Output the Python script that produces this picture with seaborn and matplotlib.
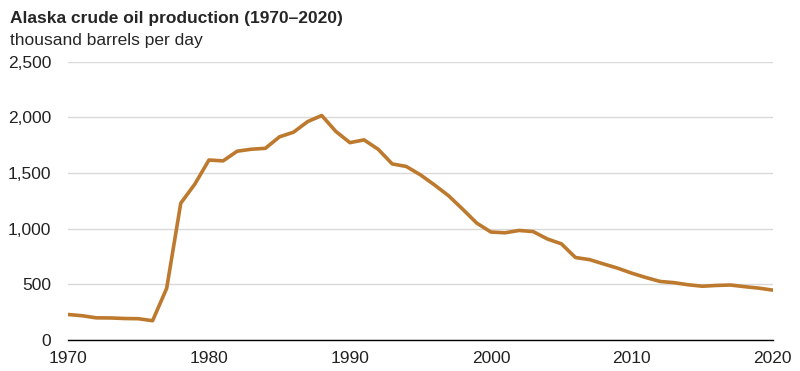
import numpy as np
import pandas as pd
import matplotlib
matplotlib.use('Agg')
import matplotlib.pyplot as plt
import seaborn as sns

# Alaska crude oil production, thousand barrels per day
years = list(range(1970, 2021))
production = [229, 218, 199, 198, 193, 191, 173, 464, 1229, 1401,
              1617, 1609, 1696, 1714, 1722, 1825, 1867, 1962, 2017, 1874,
              1773, 1798, 1714, 1582, 1559, 1484, 1393, 1296, 1175, 1050,
              970, 963, 984, 974, 908, 864, 741, 722, 683, 645,
              600, 561, 526, 515, 496, 483, 490, 494, 479, 466,
              448]
y_ticks = [0, 500, 1000, 1500, 2000, 2500]
x_labels = [1970, 1980, 1990, 2000, 2010, 2020]

df = pd.DataFrame({'year': years, 'production': production})

sns.set_style('white')
plt.rcParams['font.family'] = ['Liberation Sans', 'DejaVu Sans']

fig = plt.figure(figsize=(8, 3.71), dpi=100)
ax = fig.add_axes([0.085, 0.0836, 0.881, 0.75])

sns.lineplot(data=df, x='year', y='production', ax=ax, color='#BD7A2E', linewidth=2.6)

ax.set_xlim(1970, 2020)
ax.set_ylim(0, 2500)
ax.set_yticks(y_ticks)
ax.set_yticklabels([f'{v:,}' for v in y_ticks])
ax.set_xticks(range(1970, 2021, 5))
ax.set_xticklabels([str(y) if y in x_labels else '' for y in range(1970, 2021, 5)])
ax.set_xlabel('')
ax.set_ylabel('')

# light gridlines, black baseline
ax.yaxis.grid(True, color='#d9d9d9', linewidth=1)
ax.set_axisbelow(True)
for s in ['top', 'right', 'left']:
    ax.spines[s].set_visible(False)
ax.spines['bottom'].set_color('black')
ax.spines['bottom'].set_linewidth(1)
ax.tick_params(axis='x', direction='out', length=6, width=1, color='black', labelsize=12.5, pad=2)
ax.tick_params(axis='y', length=0, labelsize=12.5, pad=12)
for lbl in ax.get_xticklabels() + ax.get_yticklabels():
    lbl.set_color('#222222')

fig.text(0.0125, 0.95, 'Alaska crude oil production (1970\u20132020)', fontsize=12.5,
         fontweight='bold', va='center', ha='left')
fig.text(0.0125, 0.892, 'thousand barrels per day', fontsize=12.5, va='center', ha='left')

fig.savefig('out.png', dpi=100)
